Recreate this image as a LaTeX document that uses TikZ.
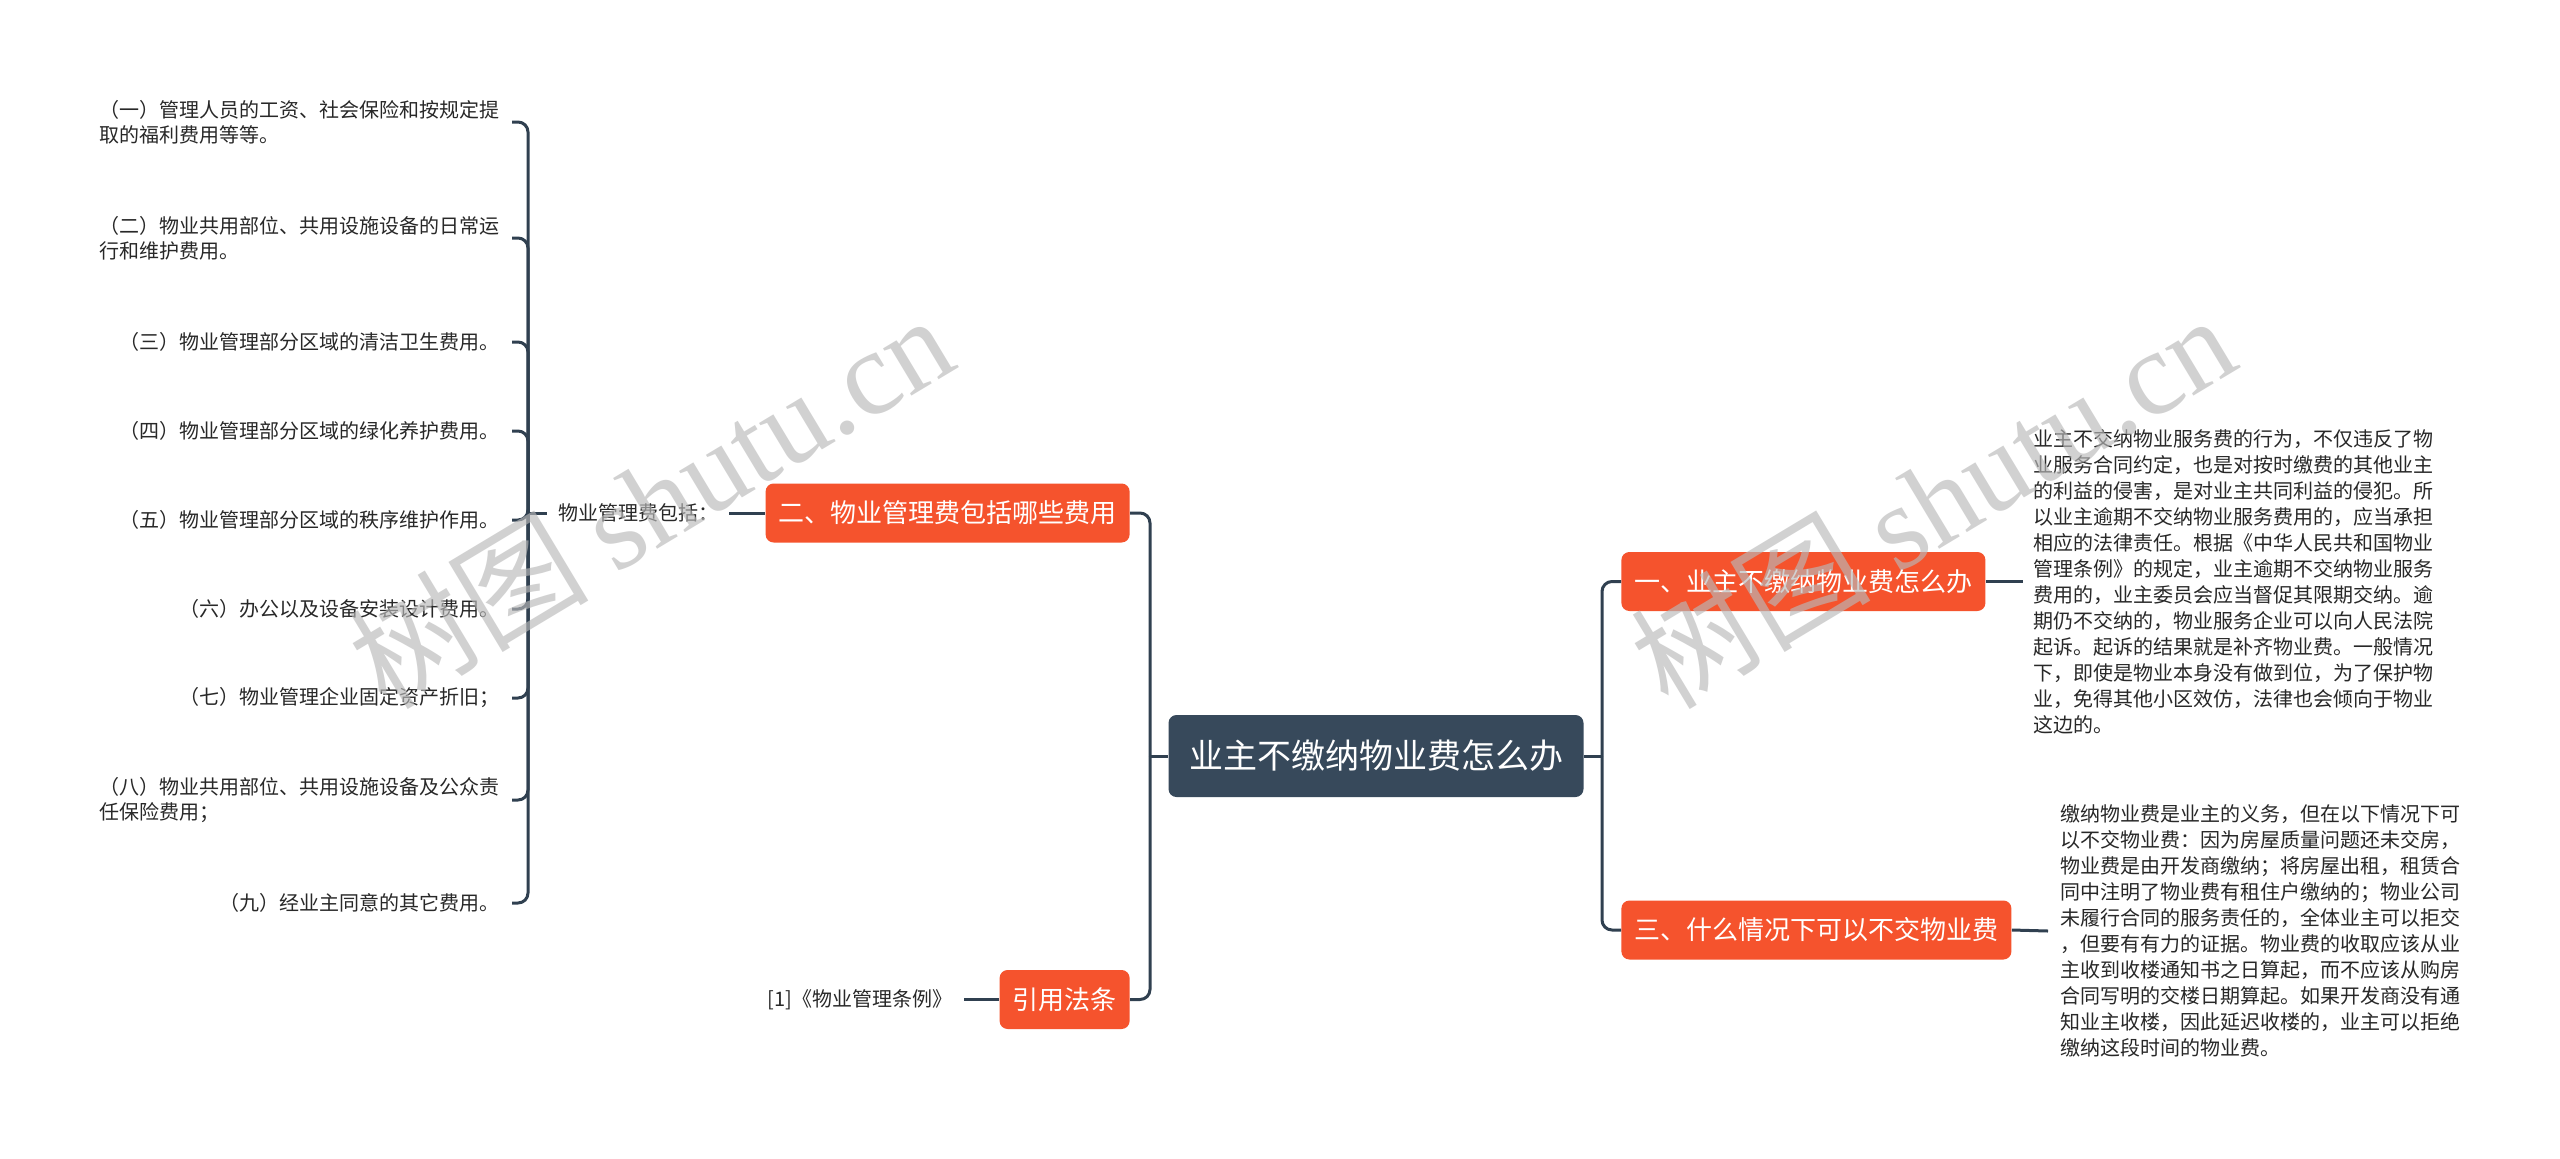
\documentclass[tikz,border=0pt]{standalone}
\usepackage{fontspec}
\setmainfont{Noto Sans CJK SC}
\newfontfamily\wmserif{Liberation Serif}
\definecolor{orangec}{RGB}{245,83,45}
\definecolor{rootc}{RGB}{55,73,91}
\definecolor{linec}{RGB}{48,64,80}
\definecolor{txtc}{RGB}{40,40,40}
\definecolor{wmc}{RGB}{185,185,185}
\tikzset{
  obox/.style={fill=orangec, text=white, rounded corners=4pt, inner xsep=6.5pt, inner ysep=0pt, minimum height=29.5pt, font=\fontsize{13pt}{15pt}\selectfont},
  rootbox/.style={fill=rootc, text=white, rounded corners=4pt, inner xsep=10.25pt, inner ysep=0pt, minimum height=41pt, font=\fontsize{17pt}{20pt}\selectfont},
  itemtxt/.style={text=txtc, inner xsep=6pt, inner ysep=0pt, align=left, font=\fontsize{10pt}{12.5pt}\selectfont},
  paratxt/.style={text=txtc, inner xsep=5pt, inner ysep=0pt, align=left, font=\fontsize{10pt}{13pt}\selectfont},
  conn/.style={draw=linec, line width=1.5pt},
  bconn/.style={conn, rounded corners=5pt},
  wmark/.style={text=wmc, text opacity=0.65, rotate=31, inner sep=0pt, font=\fontsize{60pt}{60pt}\selectfont}
}
\begin{document}
\begin{tikzpicture}[x=0.5pt,y=-0.5pt]
\useasboundingbox[fill=white] (0,0) rectangle (2560,1158);

% central node
\node[rootbox] (root) at (1376,756) {业主不缴纳物业费怎么办};

% main branches
\node[obox, anchor=east] (b2) at (1130,513) {二、物业管理费包括哪些费用};
\node[obox, anchor=east] (b4) at (1130,999.5) {引用法条};
\node[obox, anchor=west] (b1) at (1621,581.5) {一、业主不缴纳物业费怎么办};
\node[obox, anchor=west] (b3) at (1621,930) {三、什么情况下可以不交物业费};

\coordinate (rl) at (1150,756);
\coordinate (rr) at (1602,756);
\draw[conn] (root.west) -- (rl);
\draw[conn] (root.east) -- (rr);
\draw[bconn] (rl) |- (b2.east);
\draw[bconn] (rl) |- (b4.east);
\draw[bconn] (rr) |- (b1.west);
\draw[bconn] (rr) |- (b3.west);

% left sub-branch
\node[itemtxt, inner xsep=5.5pt] (lab) at (638,513) {物业管理费包括：};
\draw[conn] (b2.west) -- (lab.east);
\coordinate (lt) at (528,513);
\draw[conn] (lab.west) -- (lt);

\node[itemtxt, anchor=east] (i1) at (512,122) {（一）管理人员的工资、社会保险和按规定提\\取的福利费用等等。};
\node[itemtxt, anchor=east] (i2) at (512,238) {（二）物业共用部位、共用设施设备的日常运\\行和维护费用。};
\node[itemtxt, anchor=east] (i3) at (512,342) {（三）物业管理部分区域的清洁卫生费用。};
\node[itemtxt, anchor=east] (i4) at (512,431) {（四）物业管理部分区域的绿化养护费用。};
\node[itemtxt, anchor=east] (i5) at (512,520) {（五）物业管理部分区域的秩序维护作用。};
\node[itemtxt, anchor=east] (i6) at (512,609) {（六）办公以及设备安装设计费用。};
\node[itemtxt, anchor=east] (i7) at (512,698) {（七）物业管理企业固定资产折旧；};
\node[itemtxt, anchor=east] (i8) at (512,800) {（八）物业共用部位、共用设施设备及公众责\\任保险费用；};
\node[itemtxt, anchor=east] (i9) at (512,903) {（九）经业主同意的其它费用。};

\foreach \i in {1,...,9} {
  \draw[bconn] (lt) |- (i\i.east);
}

% citation
\node[itemtxt, anchor=east, inner xsep=5.5pt] (cite) at (964,999.5) {[1]《物业管理条例》};
\draw[conn] (b4.west) -- (cite.east);

% right paragraphs
\node[paratxt, anchor=west] (t1) at (2023,581.5) {业主不交纳物业服务费的行为，不仅违反了物\\业服务合同约定，也是对按时缴费的其他业主\\的利益的侵害，是对业主共同利益的侵犯。所\\以业主逾期不交纳物业服务费用的，应当承担\\相应的法律责任。根据《中华人民共和国物业\\管理条例》的规定，业主逾期不交纳物业服务\\费用的，业主委员会应当督促其限期交纳。逾\\期仍不交纳的，物业服务企业可以向人民法院\\起诉。起诉的结果就是补齐物业费。一般情况\\下，即使是物业本身没有做到位，为了保护物\\业，免得其他小区效仿，法律也会倾向于物业\\这边的。};
\draw[conn] (b1.east) -- (t1.west);

\node[paratxt, anchor=west, inner xsep=6pt] (t2) at (2048,931) {缴纳物业费是业主的义务，但在以下情况下可\\以不交物业费：因为房屋质量问题还未交房，\\物业费是由开发商缴纳；将房屋出租，租赁合\\同中注明了物业费有租住户缴纳的；物业公司\\未履行合同的服务责任的，全体业主可以拒交\\，但要有有力的证据。物业费的收取应该从业\\主收到收楼通知书之日算起，而不应该从购房\\合同写明的交楼日期算起。如果开发商没有通\\知业主收楼，因此延迟收楼的，业主可以拒绝\\缴纳这段时间的物业费。};
\draw[conn] (b3.east) -- (t2.west);

% watermarks
\node[wmark] (wm1) at (650,500) {树图 {\wmserif shutu.cn}};
\node[wmark] (wm2) at (1932,500) {树图 {\wmserif shutu.cn}};
\end{tikzpicture}
\end{document}
